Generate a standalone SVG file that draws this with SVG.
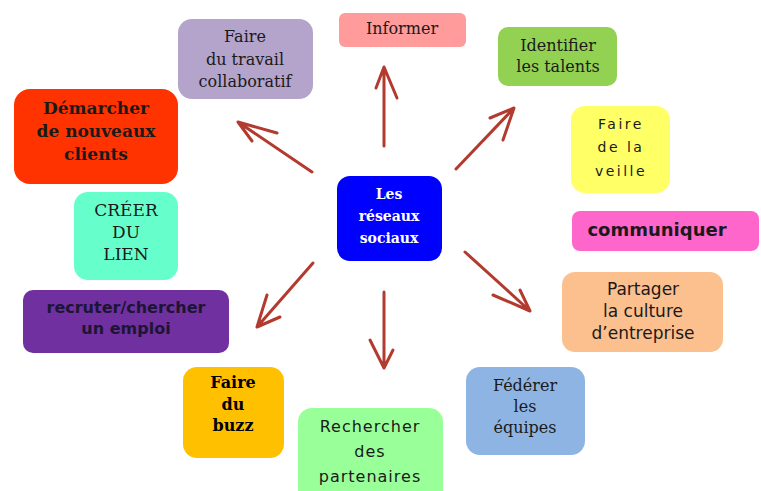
<svg xmlns="http://www.w3.org/2000/svg" width="761" height="491" viewBox="0 0 761 491">
<style>
.t{font-family:"DejaVu Serif","Liberation Serif",serif;fill:#1a1a1a;text-anchor:middle}
.sans{font-family:"DejaVu Sans","Liberation Sans",sans-serif;fill:#1a1a1a;text-anchor:middle}
.arr{fill:none;stroke:#B33A2E;stroke-width:3;stroke-linecap:round;stroke-linejoin:round}
</style>
<rect width="761" height="491" fill="#ffffff"/>
<g id="connectors">
<path class="arr" d="M384,146 L384,68 M376,88 L384,67 L397,98"/>
<path class="arr" d="M312,172 L238,122 M277,133 L238,122 L252,141"/>
<path class="arr" d="M456,169 L514,108 M490,118 L514,108 L503,140"/>
<path class="arr" d="M313,263 L257,327 M267,295 L257,327 L280,317"/>
<path class="arr" d="M384,292 L384,368 M370,340 L384,368 L393,350"/>
<path class="arr" d="M465,252 L530,311 M493,295 L530,311 L520,290"/>
</g>
<g id="n-collab">
<rect x="178" y="19" width="135" height="80" rx="14" fill="#B4A3CA"/>
<text class="t" font-size="16" x="245" y="42">Faire</text>
<text class="t" font-size="16" x="245" y="65">du travail</text>
<text class="t" font-size="16" x="245" y="87">collaboratif</text>
</g>
<g id="n-informer">
<rect x="339" y="13" width="127" height="34" rx="6" fill="#FF9B9B"/>
<text class="t" font-size="16" x="402" y="34">Informer</text>
</g>
<g id="n-talents">
<rect x="498" y="27" width="119" height="59" rx="10" fill="#93D152"/>
<text class="t" font-size="16" x="558" y="51">Identifier</text>
<text class="t" font-size="16" x="558" y="72">les talents</text>
</g>
<g id="n-veille">
<rect x="571" y="106" width="99" height="87" rx="14" fill="#FFFF66"/>
<text class="sans" font-size="14" letter-spacing="2.5" x="621" y="129">Faire</text>
<text class="sans" font-size="14" letter-spacing="2.5" x="621" y="152">de la</text>
<text class="sans" font-size="14" letter-spacing="2.5" x="621" y="176">veille</text>
</g>
<g id="n-demarcher">
<rect x="14" y="89" width="164" height="95" rx="16" fill="#FF3300"/>
<text class="t" font-size="17" font-weight="bold" x="96" y="114">Démarcher</text>
<text class="t" font-size="17" font-weight="bold" x="96" y="137">de nouveaux</text>
<text class="t" font-size="17" font-weight="bold" x="96" y="160">clients</text>
</g>
<g id="n-lien">
<rect x="74" y="192" width="104" height="88" rx="14" fill="#66FFCC"/>
<text class="t" font-size="17" x="126" y="216">CRÉER</text>
<text class="t" font-size="17" x="126" y="238">DU</text>
<text class="t" font-size="17" x="126" y="260">LIEN</text>
</g>
<g id="n-center">
<rect x="337" y="176" width="105" height="85" rx="13" fill="#0000FF"/>
<text class="t" font-size="14" font-weight="bold" style="fill:#ffffff" x="389" y="199">Les</text>
<text class="t" font-size="14" font-weight="bold" style="fill:#ffffff" x="389" y="221">réseaux</text>
<text class="t" font-size="14" font-weight="bold" style="fill:#ffffff" x="389" y="243">sociaux</text>
</g>
<g id="n-communiquer">
<rect x="572" y="211" width="187" height="40" rx="8" fill="#FF66CC"/>
<text class="sans" font-size="18" font-weight="bold" x="657" y="236">communiquer</text>
</g>
<g id="n-recruter">
<rect x="23" y="290" width="206" height="63" rx="10" fill="#7030A0"/>
<text class="sans" font-size="16" font-weight="bold" style="fill:#1c1533" x="126" y="313">recruter/chercher</text>
<text class="sans" font-size="16" font-weight="bold" style="fill:#1c1533" x="126" y="334">un emploi</text>
</g>
<g id="n-culture">
<rect x="562" y="272" width="161" height="80" rx="13" fill="#FCBF8E"/>
<text class="sans" font-size="17" x="643" y="295">Partager</text>
<text class="sans" font-size="17" x="643" y="317">la culture</text>
<text class="sans" font-size="17" x="643" y="339">d’entreprise</text>
</g>
<g id="n-buzz">
<rect x="183" y="367" width="101" height="91" rx="14" fill="#FFC000"/>
<text class="t" font-size="16" font-weight="bold" style="fill:#000" x="233" y="388">Faire</text>
<text class="t" font-size="16" font-weight="bold" style="fill:#000" x="233" y="410">du</text>
<text class="t" font-size="16" font-weight="bold" style="fill:#000" x="233" y="431">buzz</text>
</g>
<g id="n-partenaires">
<rect x="298" y="408" width="145" height="95" rx="14" fill="#99FF99"/>
<text class="sans" font-size="16" letter-spacing="1" x="370" y="432">Rechercher</text>
<text class="sans" font-size="16" letter-spacing="1" x="370" y="457">des</text>
<text class="sans" font-size="16" letter-spacing="1" x="370" y="482">partenaires</text>
</g>
<g id="n-equipes">
<rect x="466" y="367" width="119" height="88" rx="14" fill="#8EB4E3"/>
<text class="t" font-size="16" x="525" y="391">Fédérer</text>
<text class="t" font-size="16" x="525" y="412">les</text>
<text class="t" font-size="16" x="525" y="433">équipes</text>
</g>
</svg>
